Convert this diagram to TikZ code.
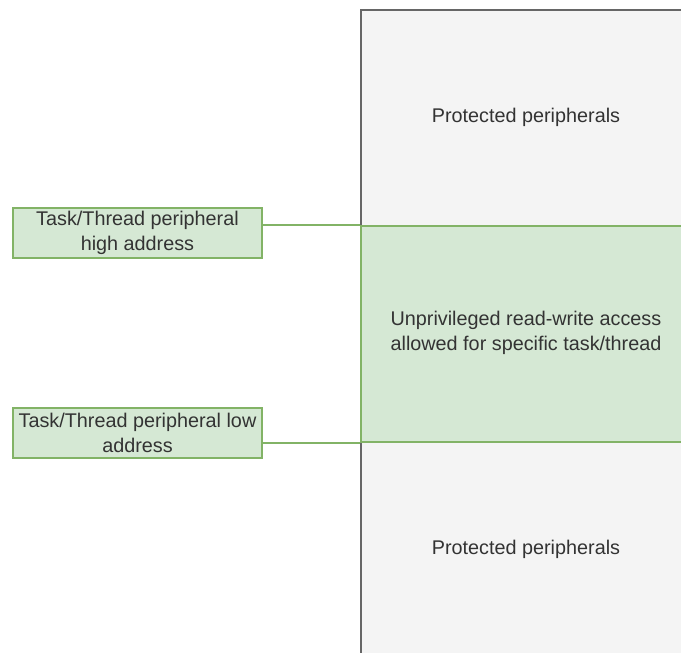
\documentclass[tikz,border=0pt]{standalone}
\usepackage{fontspec}
\setmainfont{Liberation Sans}
\definecolor{greyfill}{HTML}{F4F4F4}
\definecolor{greyline}{HTML}{666666}
\definecolor{greenfill}{HTML}{D5E8D4}
\definecolor{greenline}{HTML}{82B366}
\definecolor{txt}{HTML}{333333}
\begin{document}
\begin{tikzpicture}[x=1pt,y=-1pt,
  region/.style={draw=greyline, fill=greyfill, line width=1.8pt, minimum width=360pt, minimum height=216pt, inner sep=0pt, anchor=north west},
  window/.style={draw=greenline, fill=greenfill, line width=1.8pt, minimum width=360pt, minimum height=216pt, inner sep=0pt, anchor=north west},
  label/.style={text=txt, font=\fontsize{19.8}{25}\selectfont, align=center},
  addr/.style={draw=greenline, fill=greenfill, line width=1.8pt, minimum width=249pt, minimum height=50pt, inner sep=0pt, text=txt, font=\fontsize{19.8}{25}\selectfont, align=center},
  link/.style={draw=greenline, line width=1.8pt}]
\clip (0,0) rectangle (681,653);
\fill[white] (0,0) rectangle (681,653);
% memory map column (runs past the right and bottom edges)
\node[region] (top) at (360,9) {};
\node[region] (bot) at (360,441) {};
\node[window] (mid) at (360,225) {};
\node[label] (toptxt) at (526,117) {Protected peripherals};
\node[label] (midtxt) at (526,333) {Unprivileged read-write access\\allowed for specific task/thread};
\node[label] (bottxt) at (526,549) {Protected peripherals};
% address markers
\node[addr] (hi) at (137.5,233) {Task/Thread peripheral\\high address};
\node[addr] (lo) at (137.5,433) {Task/Thread peripheral low\\address};
\draw[link] (hi.east |- mid.north west) -- (mid.north west);
\draw[link] (lo.east |- mid.south west) -- (mid.south west);
\end{tikzpicture}
\end{document}
